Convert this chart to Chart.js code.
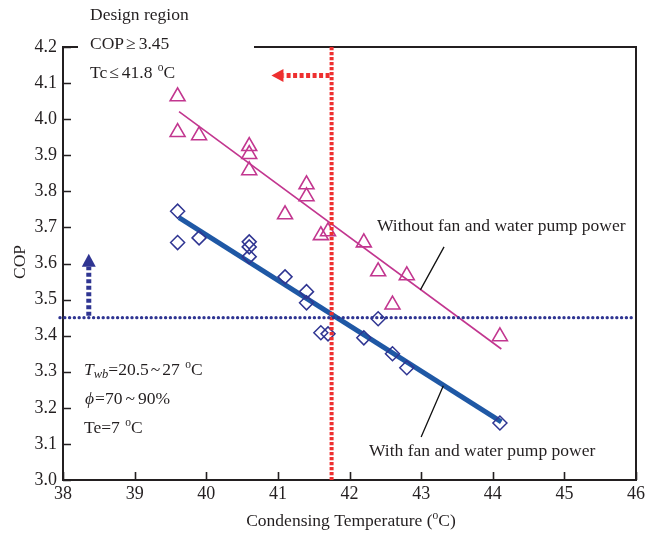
<!DOCTYPE html>
<html><head><meta charset="utf-8">
<script src="https://cdn.jsdelivr.net/npm/chart.js@4/dist/chart.umd.min.js"></script>
<style>html,body{margin:0;padding:0;background:#fff}#wrap{width:648px;height:534px}</style>
</head><body><div id="wrap"><canvas id="c" width="648" height="534"></canvas></div>
<script>
// ---- data ----
const xTickValues = [38, 39, 40, 41, 42, 43, 44, 45, 46];
const yTickValues = [3.0, 3.1, 3.2, 3.3, 3.4, 3.5, 3.6, 3.7, 3.8, 3.9, 4.0, 4.1, 4.2];
// Without fan and water pump power (triangles)
const withoutX = [39.6, 39.6, 39.9, 40.6, 40.6, 40.6, 41.4, 41.4, 41.1, 41.6, 41.7, 42.2, 42.4, 42.8, 42.6, 44.1];
const withoutY = [4.063, 3.964, 3.955, 3.925, 3.903, 3.858, 3.819, 3.786, 3.736, 3.678, 3.689, 3.658, 3.578, 3.567, 3.486, 3.398];
// With fan and water pump power (diamonds)
const withX = [39.6, 39.6, 39.9, 40.6, 40.6, 40.6, 41.1, 41.4, 41.4, 41.6, 41.7, 42.2, 42.4, 42.6, 42.8, 44.1];
const withY = [3.745, 3.658, 3.671, 3.660, 3.646, 3.619, 3.563, 3.522, 3.491, 3.408, 3.405, 3.394, 3.447, 3.350, 3.311, 3.158];
// fitted lines (end points)
const fitWithoutX = [39.62, 44.12];
const fitWithoutY = [4.021, 3.363];
const fitWithX = [39.62, 44.12];
const fitWithY = [3.727, 3.161];
// design limits
const copLimit = 3.45;
const tcLimit = 41.75;

const FONT = "'Liberation Serif', 'DejaVu Serif', serif";
const TXT = '#231f20';
const MAG = '#c2368f';
const NAVY = '#2f3592';
const BLUE = '#1f58a5';
const RED = '#ee2f2f';

const toPts = (xs, ys) => xs.map((x, i) => ({x, y: ys[i]}));

function richWidth(ctx, parts) {
  let w = 0;
  for (const p of parts) { ctx.font = (p.italic ? 'italic ' : '') + p.size + 'px ' + FONT; w += ctx.measureText(p.t).width + (p.gap || 0); }
  return w;
}
function drawRich(ctx, x, y, parts, align) {
  if (align === 'center') x -= richWidth(ctx, parts) / 2;
  ctx.textBaseline = 'middle'; ctx.textAlign = 'left'; ctx.fillStyle = TXT;
  for (const p of parts) {
    ctx.font = (p.italic ? 'italic ' : '') + p.size + 'px ' + FONT;
    x += (p.pre || 0);
    ctx.fillText(p.t, x, y + (p.dy || 0));
    x += ctx.measureText(p.t).width + (p.gap || 0);
  }
}

const annot = {
  id: 'annot',
  afterDraw(chart) {
    const ctx = chart.ctx, xs = chart.scales.x, ys = chart.scales.y, a = chart.chartArea;
    ctx.save();
    // inward ticks
    ctx.strokeStyle = TXT; ctx.lineWidth = 1.6; ctx.setLineDash([]);
    ctx.beginPath();
    for (const v of yTickValues) { const py = Math.round(ys.getPixelForValue(v)) + 0.5; ctx.moveTo(a.left, py); ctx.lineTo(a.left + 8, py); }
    for (const v of xTickValues) { const px = Math.round(xs.getPixelForValue(v)) + 0.5; ctx.moveTo(px, a.bottom); ctx.lineTo(px, a.bottom - 8); }
    ctx.stroke();
    // top (with gap for text) and right border
    ctx.lineWidth = 2;
    ctx.beginPath();
    ctx.moveTo(a.left - 1, a.top); ctx.lineTo(78, a.top);
    ctx.moveTo(254, a.top); ctx.lineTo(a.right, a.top); ctx.lineTo(a.right, a.bottom);
    ctx.stroke();

    // red dotted vertical limit line
    const xL = xs.getPixelForValue(tcLimit);
    ctx.strokeStyle = RED; ctx.lineWidth = 4; ctx.setLineDash([3.2, 1.8]); ctx.lineCap = 'butt';
    ctx.beginPath(); ctx.moveTo(xL, a.top); ctx.lineTo(xL, a.bottom); ctx.stroke();
    // blue dotted horizontal limit line
    const yL = ys.getPixelForValue(copLimit);
    ctx.strokeStyle = NAVY; ctx.lineWidth = 3.4; ctx.setLineDash([0, 4.8]); ctx.lineCap = 'round';
    ctx.beginPath(); ctx.moveTo(a.left - 3, yL); ctx.lineTo(a.right, yL); ctx.stroke();

    // red arrow (to the left)
    const ay = ys.getPixelForValue(4.121), tipX = xs.getPixelForValue(40.91);
    ctx.strokeStyle = RED; ctx.lineWidth = 5; ctx.setLineDash([4, 2.5]); ctx.lineCap = 'butt';
    ctx.beginPath(); ctx.moveTo(xL - 2, ay); ctx.lineTo(tipX + 12, ay); ctx.stroke();
    ctx.setLineDash([]); ctx.fillStyle = RED;
    ctx.beginPath(); ctx.moveTo(tipX, ay); ctx.lineTo(tipX + 12, ay - 6.5); ctx.lineTo(tipX + 12, ay + 6.5); ctx.closePath(); ctx.fill();
    // blue arrow (upwards)
    const ax = xs.getPixelForValue(38.36), tipY = ys.getPixelForValue(3.627);
    ctx.strokeStyle = NAVY; ctx.lineWidth = 5; ctx.setLineDash([4, 2.5]);
    ctx.beginPath(); ctx.moveTo(ax, yL - 2); ctx.lineTo(ax, tipY + 13); ctx.stroke();
    ctx.setLineDash([]); ctx.fillStyle = NAVY;
    ctx.beginPath(); ctx.moveTo(ax, tipY); ctx.lineTo(ax - 7, tipY + 13); ctx.lineTo(ax + 7, tipY + 13); ctx.closePath(); ctx.fill();

    // leader lines
    ctx.strokeStyle = '#111'; ctx.lineWidth = 1.3;
    ctx.beginPath();
    ctx.moveTo(xs.getPixelForValue(43.32), ys.getPixelForValue(3.646)); ctx.lineTo(xs.getPixelForValue(42.99), ys.getPixelForValue(3.527));
    ctx.moveTo(xs.getPixelForValue(43.31), ys.getPixelForValue(3.261)); ctx.lineTo(xs.getPixelForValue(43.0), ys.getPixelForValue(3.119));
    ctx.stroke();

    // texts
    const S = 17.5, s = 11.5;
    drawRich(ctx, 377, 226, [{t: 'Without fan and water pump power', size: S}]);
    drawRich(ctx, 369, 451, [{t: 'With fan and water pump power', size: S}]);
    drawRich(ctx, 90, 15, [{t: 'Design region', size: S}]);
    drawRich(ctx, 90, 44, [{t: 'COP', size: S, gap: 2}, {t: '\u2265', size: S, gap: 3}, {t: '3.45', size: S}]);
    drawRich(ctx, 90, 73, [{t: 'Tc', size: S, gap: 2}, {t: '\u2264', size: S, gap: 3}, {t: '41.8 ', size: S, gap: 1}, {t: 'o', size: s, dy: -5}, {t: 'C', size: S}]);
    drawRich(ctx, 84, 370, [{t: 'T', size: S, italic: true}, {t: 'wb', size: s + 1, italic: true, dy: 5}, {t: '=20.5', size: S, gap: 2}, {t: '~', size: S, gap: 2}, {t: '27 ', size: S, gap: 1}, {t: 'o', size: s, dy: -5}, {t: 'C', size: S}]);
    drawRich(ctx, 85, 399, [{t: '\u03d5', size: S, italic: true, gap: 1}, {t: '=70', size: S, gap: 3}, {t: '~', size: S, gap: 3}, {t: '90%', size: S}]);
    drawRich(ctx, 84, 428, [{t: 'Te=7 ', size: S, gap: 1}, {t: 'o', size: s, dy: -5}, {t: 'C', size: S}]);
    // axis titles
    drawRich(ctx, 351, 521, [{t: 'Condensing Temperature (', size: S}, {t: 'o', size: s, dy: -5}, {t: 'C)', size: S}], 'center');
    ctx.translate(20, 262); ctx.rotate(-Math.PI / 2);
    drawRich(ctx, 0, 0, [{t: 'COP', size: S}], 'center');
    ctx.restore();
  }
};

new Chart(document.getElementById('c'), {
  type: 'scatter',
  data: {
    datasets: [
      {data: toPts(fitWithoutX, fitWithoutY), showLine: true, borderColor: MAG, borderWidth: 1.6, pointRadius: 0, order: 3},
      {data: toPts(fitWithX, fitWithY), showLine: true, borderColor: BLUE, borderWidth: 5, pointRadius: 0, order: 3},
      {data: toPts(withoutX, withoutY), pointStyle: 'triangle', pointRadius: 8.6, borderColor: MAG, backgroundColor: 'rgba(0,0,0,0)', pointBorderWidth: 1.6, order: 1},
      {data: toPts(withX, withY), pointStyle: 'rectRot', pointRadius: 7, borderColor: NAVY, backgroundColor: 'rgba(0,0,0,0)', pointBorderWidth: 1.5, order: 2}
    ]
  },
  options: {
    responsive: false, animation: false, devicePixelRatio: 1,
    layout: {padding: {top: 47, right: 11, left: 0, bottom: 0}},
    plugins: {legend: {display: false}, tooltip: {enabled: false}},
    scales: {
      x: {
        type: 'linear', min: 38, max: 46,
        afterBuildTicks: s => { s.ticks = xTickValues.map(v => ({value: v})); },
        ticks: {color: TXT, font: {family: FONT, size: 18}, padding: 3, callback: v => String(v)},
        grid: {display: false, drawTicks: false},
        border: {display: true, color: TXT, width: 2},
        afterFit: s => { s.height = 54; }
      },
      y: {
        type: 'linear', min: 3.0, max: 4.2,
        afterBuildTicks: s => { s.ticks = yTickValues.map(v => ({value: v})); },
        ticks: {color: TXT, font: {family: FONT, size: 18}, padding: 6, callback: v => Number(v).toFixed(1)},
        grid: {display: false, drawTicks: false},
        border: {display: true, color: TXT, width: 2},
        afterFit: s => { s.width = 63; }
      }
    }
  },
  plugins: [annot]
});
</script></body></html>
